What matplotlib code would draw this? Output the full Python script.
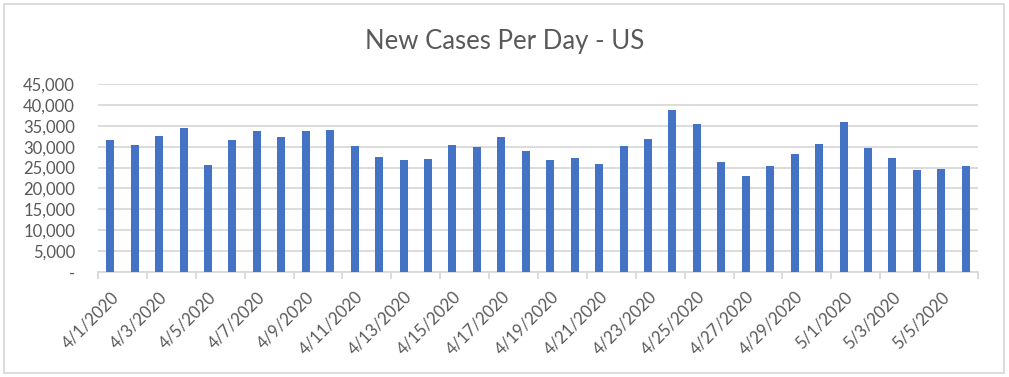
import numpy
import matplotlib.pyplot as plt
from matplotlib.patches import Rectangle
from matplotlib.ticker import FuncFormatter

# daily new cases
dates = ["4/1/2020", "4/2/2020", "4/3/2020", "4/4/2020", "4/5/2020", "4/6/2020",
         "4/7/2020", "4/8/2020", "4/9/2020", "4/10/2020", "4/11/2020", "4/12/2020",
         "4/13/2020", "4/14/2020", "4/15/2020", "4/16/2020", "4/17/2020", "4/18/2020",
         "4/19/2020", "4/20/2020", "4/21/2020", "4/22/2020", "4/23/2020", "4/24/2020",
         "4/25/2020", "4/26/2020", "4/27/2020", "4/28/2020", "4/29/2020", "4/30/2020",
         "5/1/2020", "5/2/2020", "5/3/2020", "5/4/2020", "5/5/2020", "5/6/2020"]
new_cases = [31600, 30400, 32550, 34450, 25650, 31600,
             33750, 32300, 33750, 34000, 30150, 27550,
             26850, 27050, 30400, 29950, 32300, 28950,
             26850, 27300, 25850, 30150, 31850, 38750,
             35400, 26350, 23000, 25400, 28250, 30650,
             35900, 29700, 27300, 24450, 24700, 25400]
y_ticks = [0, 5000, 10000, 15000, 20000, 25000, 30000, 35000, 40000, 45000]

bar_color = "#4472C4"
grid_color = "#D9D9D9"
text_color = "#595959"

plt.rcParams["font.family"] = ["Lato", "DejaVu Sans"]

fig = plt.figure(figsize=(10.09, 3.77), dpi=100)
ax = fig.add_axes([98 / 1009, 105 / 377, 880 / 1009, 188 / 377])

x = numpy.arange(len(dates))
ax.bar(x, new_cases, width=0.33, color=bar_color, zorder=3)

ax.set_xlim(-0.5, len(dates) - 0.5)
ax.set_ylim(0, 45000)
ax.set_yticks(y_ticks)
ax.yaxis.set_major_formatter(FuncFormatter(lambda v, p: "-" if v == 0 else f"{int(v):,}"))
ax.grid(axis="y", color=grid_color, linewidth=1.3, zorder=0)

# labels on every other day, tick marks between the pairs
ax.set_xticks(x[::2])
ax.set_xticklabels(dates[::2], rotation=45, ha="right", va="top", rotation_mode="anchor")
ax.set_xticks(numpy.arange(-0.5, len(dates), 2), minor=True)
ax.tick_params(axis="x", which="major", length=0, pad=12, labelsize=12, labelcolor=text_color)
ax.tick_params(axis="x", which="minor", length=5, color=grid_color, width=1.3)
ax.tick_params(axis="y", length=0, pad=16.5, labelsize=12, labelcolor=text_color)

for side in ["left", "right", "top"]:
    ax.spines[side].set_visible(False)
ax.spines["bottom"].set_color(grid_color)
ax.spines["bottom"].set_linewidth(1.3)

fig.text(0.5, 1 - 42 / 377, "New Cases Per Day - US", ha="center", va="center",
         fontsize=18.5, color=text_color)

# the chart border excel draws
fig.patches.append(Rectangle((4 / 1009, 4 / 377), 1000 / 1009, 369 / 377,
                             transform=fig.transFigure, fill=False,
                             edgecolor=grid_color, linewidth=1.3))

fig.savefig("out.png", dpi=100)
